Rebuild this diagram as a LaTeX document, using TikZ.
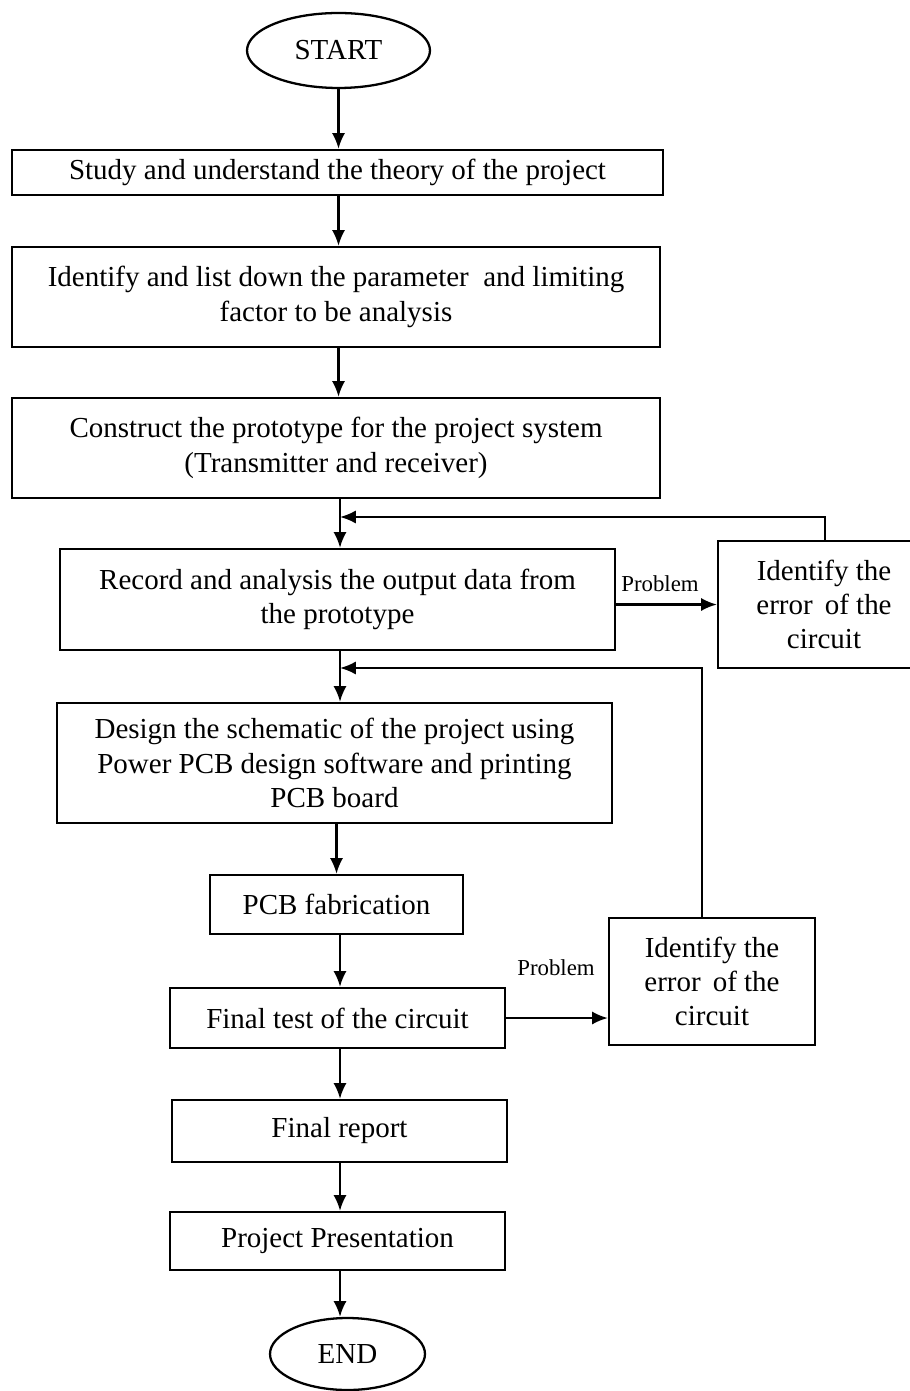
\documentclass[tikz,border=0pt]{standalone}
\usepackage{fontspec}
\setmainfont{Liberation Serif}
\usetikzlibrary{arrows.meta, positioning, shapes.geometric}

\begin{document}
\begin{tikzpicture}[x=0.02cm, y=-0.02cm, line width=1.3pt,
    >={Latex[length=9pt,width=7.5pt]},
    every node/.style={font=\fontsize{16.5}{19.5}\selectfont},
    box/.style={draw, align=center, inner sep=2pt},
    term/.style={draw, ellipse, inner sep=0pt},
    tag/.style={font=\fontsize{13}{15}\selectfont}]
    \useasboundingbox (0, 0) rectangle (909, 1391);

    \node[term, minimum width=3.66cm, minimum height=1.5cm] (start) at (338.5, 50.5) {START};
    \node[box, minimum width=13.02cm, minimum height=0.9cm] (study) at (337.5, 172.5) {Study and understand the theory of the project};
    \node[box, minimum width=12.96cm, minimum height=2cm] (param) at (336, 297) {Identify and list down the parameter \ and limiting\\factor to be analysis};
    \node[box, minimum width=12.96cm, minimum height=2cm] (proto) at (336, 448) {Construct the prototype for the project system\\(Transmitter and receiver)};
    \node[box, minimum width=11.1cm, minimum height=2.02cm] (record) at (337.5, 599.5) {Record and analysis the output data from\\the prototype};
    \node[box, minimum width=4.24cm, minimum height=2.54cm] (err1) at (824, 604.5) {Identify the\\error \,of the\\circuit};
    \node[box, minimum width=11.1cm, minimum height=2.4cm] (design) at (334.5, 763) {Design the schematic of the project using\\Power PCB design software and printing\\PCB board};
    \node[box, minimum width=5.06cm, minimum height=1.18cm] (fab) at (336.5, 904.5) {PCB fabrication};
    \node[box, minimum width=6.7cm, minimum height=1.2cm] (test) at (337.5, 1018) {Final test of the circuit};
    \node[box, minimum width=4.12cm, minimum height=2.54cm] (err2) at (712, 981.5) {Identify the\\error \,of the\\circuit};
    \node[box, minimum width=6.7cm, minimum height=1.24cm] (report) at (339.5, 1131) {Final report};
    \node[box, minimum width=6.7cm, minimum height=1.16cm] (present) at (337.5, 1241) {Project Presentation};
    \node[term, minimum width=3.1cm, minimum height=1.44cm] (end) at (347.5, 1354) {END};

    \node[tag] (prob1) at (660, 584) {Problem};
    \node[tag] (prob2) at (556, 968) {Problem};

    \coordinate (back1) at (340, 517);
    \coordinate (back2) at (340, 668);

    % main flow
    \draw[->] (start.south) -- (start.south |- study.north);
    \draw[->] (study.south -| start) -- (start |- param.north);
    \draw[->] (param.south -| start) -- (start |- proto.north);
    \draw[->] (proto.south -| back1) -- (back1 |- record.north);
    \draw[->] (record.south -| back1) -- (back1 |- design.north);
    \draw[->] (design.south -| fab) -- (fab.north);
    \draw[->] (fab.south -| back1) -- (back1 |- test.north);
    \draw[->] (test.south -| back1) -- (back1 |- report.north);
    \draw[->] (report.south -| back1) -- (back1 |- present.north);
    \draw[->] (present.south -| back1) -- (back1 |- end.north);

    % problem branches
    \draw[->] (record.east |- err1.west) -- (err1.west);
    \draw[->] (test.east) -- (test.east -| err2.west);
    \draw[->] ([xshift=0.02cm]err1.north) |- (back1);
    \draw[->] ([xshift=-0.2cm]err2.north) |- (back2);
\end{tikzpicture}
\end{document}
